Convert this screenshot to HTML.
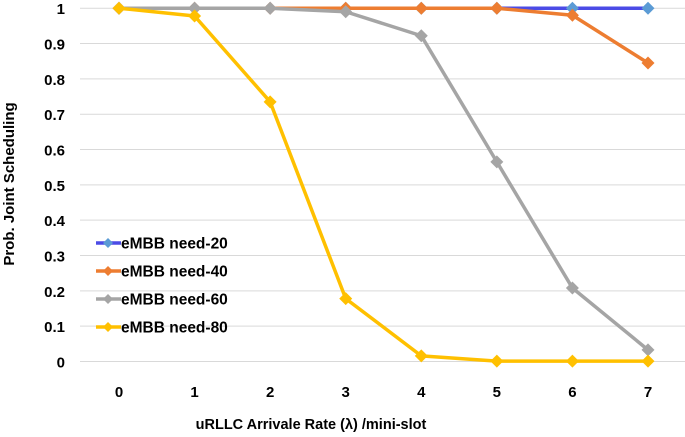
<!DOCTYPE html>
<html><head><meta charset="utf-8"><style>
body{margin:0;background:#fff;}
svg text{font-family:"Liberation Sans",Arial,sans-serif;font-weight:bold;fill:#000;}
</style></head><body>
<svg width="685" height="432" viewBox="0 0 685 432">
<g id="grid"></g><g id="yt"></g><g id="xt"></g><g id="series"></g><g id="legend"></g>
<text transform="translate(14,184) rotate(-90)" text-anchor="middle" font-size="15">Prob. Joint Scheduling</text>
<text x="311" y="429" text-anchor="middle" font-size="14.5">uRLLC Arrivale Rate (λ) /mini-slot</text>
</svg>
<script>
const categories=[0,1,2,3,4,5,6,7];
const yTicks=[0,0.1,0.2,0.3,0.4,0.5,0.6,0.7,0.8,0.9,1];
const seriesNames=["eMBB need-20","eMBB need-40","eMBB need-60","eMBB need-80"];
const need20=[1,1,1,1,1,1,1,1];
const need40=[1,1,1,1,1,1,0.98,0.845];
const need60=[1,1,1,0.99,0.922,0.565,0.208,0.033];
const need80=[1,0.978,0.735,0.178,0.016,0.001,0.001,0.001];
const series=[need20,need40,need60,need80];
const lineColors=["#4b4be6","#ed7d31","#a5a5a5","#ffc000"];
const markColors=["#5b9bd5","#ed7d31","#a5a5a5","#ffc000"];
const NS="http://www.w3.org/2000/svg";
const x=v=>119+v*75.57;
const y=v=>361.5-v*353.3;
function mk(t,a,p){const e=document.createElementNS(NS,t);for(const k in a)e.setAttribute(k,a[k]);p.appendChild(e);return e;}
const grid=document.getElementById('grid'),yt=document.getElementById('yt'),xt=document.getElementById('xt');
yTicks.forEach(v=>{
 const l=mk('line',{x1:80,x2:685,y1:y(v),y2:y(v),stroke:'#d9d9d9','stroke-width':1},grid);
 
 
 const t=mk('text',{x:65,y:y(v)+6,'text-anchor':'end','font-size':15},yt);t.textContent=String(v);
 
 
});
categories.forEach(c=>{
 const t=mk('text',{x:x(c),y:397,'text-anchor':'middle','font-size':15},xt);t.textContent=String(c);
 
 
});
const sg=document.getElementById('series');
function diamond(cx,cy,r,col,p){return mk('polygon',{points:`${cx},${cy-r} ${cx+r},${cy} ${cx},${cy+r} ${cx-r},${cy}`,fill:col},p);}
series.forEach((s,i)=>{
 const g=mk('g',{},sg);
 
 
 const pl=mk('polyline',{points:s.map((v,j)=>x(categories[j])+','+y(v)).join(' '),fill:'none',stroke:lineColors[i],'stroke-width':3.5,'stroke-linejoin':'round'},g);
 
 
 s.forEach((v,j)=>{const d=diamond(x(categories[j]),y(v),6.5,markColors[i],g);
  
  });
});
const lg=document.getElementById('legend');
seriesNames.forEach((n,i)=>{
 const yy=243+i*28;
 const g=mk('g',{},lg);
 
 
 mk('line',{x1:96,x2:121,y1:yy,y2:yy,stroke:lineColors[i],'stroke-width':3.5},g);
 diamond(108,yy,5,markColors[i],g);
 const t=mk('text',{x:121,y:yy+5.5,'font-size':15.5},g);t.textContent=n;
});
</script>
</body></html>
